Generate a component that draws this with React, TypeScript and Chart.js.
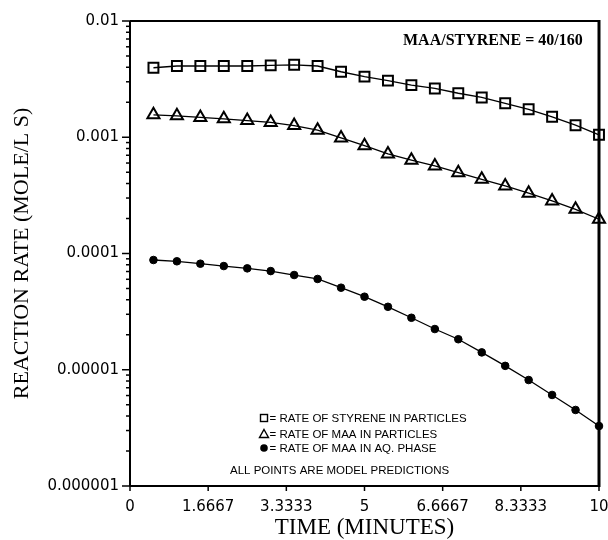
import { useEffect, useRef } from "react";
import { Chart, registerables } from "chart.js";

Chart.register(...registerables);

const timeMinutes = [0.5, 1, 1.5, 2, 2.5, 3, 3.5, 4, 4.5, 5, 5.5, 6, 6.5, 7, 7.5, 8, 8.5, 9, 9.5, 10];
const styreneInParticles = [
  0.00396, 0.0041, 0.0041, 0.0041, 0.0041, 0.00415, 0.0042, 0.0041, 0.00366, 0.00332,
  0.00307, 0.00281, 0.00263, 0.00239, 0.0022, 0.00196, 0.00174, 0.0015, 0.00127, 0.00105,
];
const maaInParticles = [
  0.00156, 0.00153, 0.00148, 0.00144, 0.00139, 0.00134, 0.00126, 0.00115, 0.000986, 0.000846,
  0.000718, 0.000635, 0.000566, 0.000496, 0.000435, 0.000381, 0.00033, 0.000283, 0.00024, 0.000197,
];
const maaInAqPhase = [
  0.0000879, 0.0000857, 0.0000817, 0.000078, 0.0000745, 0.0000706, 0.0000653, 0.0000604, 0.0000508, 0.0000425,
  0.0000348, 0.000028, 0.0000224, 0.0000183, 0.0000141, 0.0000108, 0.00000816, 0.00000607, 0.00000451, 0.00000328,
];
const xTickValues = [0, 1.6667, 3.3333, 5, 6.6667, 8.3333, 10];
const xTickLabels = ["0", "1.6667", "3.3333", "5", "6.6667", "8.3333", "10"];
const yTickValues = [0.000001, 0.00001, 0.0001, 0.001, 0.01];
const yTickLabels = ["0.000001", "0.00001", "0.0001", "0.001", "0.01"];
const legendLabels = [
  "RATE OF STYRENE IN PARTICLES",
  "RATE OF MAA IN PARTICLES",
  "RATE OF MAA IN AQ. PHASE",
];
const noteText = "ALL POINTS ARE MODEL PREDICTIONS";
const ratioText = "MAA/STYRENE = 40/160";
const xTitle = "TIME (MINUTES)";
const yTitle = "REACTION RATE (MOLE/L S)";

const decorPlugin = {
  id: "decor",
  afterDraw(chart: any) {
    const { ctx, chartArea } = chart;
    const xs = chart.scales.x;
    const ys = chart.scales.y;
    const { left, right, top, bottom } = chartArea;
    ctx.save();
    ctx.strokeStyle = "#000";
    ctx.fillStyle = "#000";
    // frame
    ctx.lineWidth = 2;
    ctx.beginPath();
    ctx.moveTo(left, top);
    ctx.lineTo(right, top);
    ctx.moveTo(left, top);
    ctx.lineTo(left, bottom);
    ctx.moveTo(left, bottom);
    ctx.lineTo(right, bottom);
    ctx.stroke();
    ctx.lineWidth = 3;
    ctx.beginPath();
    ctx.moveTo(right, top - 1);
    ctx.lineTo(right, bottom + 1);
    ctx.stroke();
    // y ticks (major + minor)
    ctx.lineWidth = 1.5;
    for (let d = -6; d <= -2; d++) {
      for (let m = 1; m <= 9; m++) {
        const v = m * Math.pow(10, d);
        if (v > 0.01 * 1.0001) continue;
        const py = ys.getPixelForValue(v);
        const len = m === 1 ? 8 : 4;
        ctx.beginPath();
        ctx.moveTo(left - len, py);
        ctx.lineTo(left, py);
        ctx.stroke();
      }
    }
    // x ticks
    xTickValues.forEach((v) => {
      const px = xs.getPixelForValue(v);
      ctx.beginPath();
      ctx.moveTo(px, bottom);
      ctx.lineTo(px, bottom + 5);
      ctx.stroke();
    });
    // ratio text
    ctx.font = "bold 16px 'Liberation Serif'";
    ctx.textBaseline = "middle";
    ctx.textAlign = "left";
    ctx.fillText(ratioText, 403, 41);
    // legend
    const lx = 264;
    const rows = [418, 434, 448];
    ctx.lineWidth = 1.4;
    ctx.strokeRect(lx - 3.5, rows[0] - 3.5, 7, 7);
    ctx.beginPath();
    ctx.moveTo(lx, rows[1] - 4.5);
    ctx.lineTo(lx + 4.5, rows[1] + 3.5);
    ctx.lineTo(lx - 4.5, rows[1] + 3.5);
    ctx.closePath();
    ctx.stroke();
    ctx.beginPath();
    ctx.arc(lx, rows[2], 3.8, 0, Math.PI * 2);
    ctx.fill();
    ctx.font = "11.5px 'Liberation Sans'";
    legendLabels.forEach((t, i) => {
      ctx.fillText("= " + t, 269.5, rows[i] + 0.5);
    });
    ctx.fillText(noteText, 230, 471);
    ctx.restore();
  },
};

export default function App() {
  const ref = useRef<HTMLCanvasElement | null>(null);
  useEffect(() => {
    if (!ref.current) return;
    const mk = (vals: number[]) => timeMinutes.map((t, i) => ({ x: t, y: vals[i] }));
    const chart = new Chart(ref.current, {
      type: "line",
      data: {
        datasets: [
          {
            data: mk(styreneInParticles),
            pointStyle: "rect",
            pointRadius: 7,
            pointBorderWidth: 2,
            pointBorderColor: "#000",
            pointBackgroundColor: "rgba(0,0,0,0)",
            borderColor: "#000",
            borderWidth: 1.3,
            fill: false,
            clip: false,
          },
          {
            data: mk(maaInParticles),
            pointStyle: "triangle",
            pointRadius: 7,
            pointBorderWidth: 2,
            pointBorderColor: "#000",
            pointBackgroundColor: "rgba(0,0,0,0)",
            borderColor: "#000",
            borderWidth: 1.3,
            fill: false,
            clip: false,
          },
          {
            data: mk(maaInAqPhase),
            pointStyle: "circle",
            pointRadius: 3.8,
            pointBorderWidth: 1,
            pointBorderColor: "#000",
            pointBackgroundColor: "#000",
            borderColor: "#000",
            borderWidth: 1.3,
            fill: false,
            clip: false,
          },
        ],
      } as any,
      options: {
        animation: false,
        responsive: false,
        layout: { padding: { left: 0, top: 21, right: 8, bottom: 0 } },
        plugins: { legend: { display: false }, tooltip: { enabled: false } },
        scales: {
          x: {
            type: "linear",
            position: "bottom",
            min: 0,
            max: 10,
            grid: { display: false, drawTicks: false },
            border: { display: false },
            afterBuildTicks: (s: any) => {
              s.ticks = xTickValues.map((v) => ({ value: v }));
            },
            afterFit: (s: any) => {
              s.height = 54;
              s.paddingLeft = 0;
              s.paddingRight = 0;
            },
            ticks: {
              autoSkip: false,
              maxRotation: 0,
              padding: 12,
              color: "#000",
              font: { family: "'DejaVu Sans'", size: 15 },
              callback: (_v: any, i: number) => xTickLabels[i],
            },
            title: {
              display: true,
              text: xTitle,
              color: "#000",
              font: { family: "'Liberation Serif'", size: 23, lineHeight: 1 },
              padding: { top: 0, bottom: 1 },
            },
          },
          y: {
            type: "logarithmic",
            min: 0.000001,
            max: 0.01,
            grid: { display: false, drawTicks: false },
            border: { display: false },
            afterBuildTicks: (s: any) => {
              s.ticks = yTickValues.map((v) => ({ value: v }));
            },
            afterFit: (s: any) => {
              s.width = 130;
              s.paddingTop = 0;
              s.paddingBottom = 0;
            },
            ticks: {
              autoSkip: false,
              padding: 11,
              color: "#000",
              font: { family: "'DejaVu Sans'", size: 15 },
              callback: (_v: any, i: number) => yTickLabels[i],
            },
            title: {
              display: true,
              text: yTitle,
              color: "#000",
              font: { family: "'Liberation Serif'", size: 22, lineHeight: 1 },
              padding: { top: 11, bottom: 0 },
            },
          },
        },
      } as any,
      plugins: [decorPlugin],
    });
    return () => chart.destroy();
  }, []);
  return (
    <div style={{ position: "fixed", left: 0, top: 0, width: 608, height: 540, background: "#fff" }}>
      <canvas ref={ref} width={608} height={540} />
    </div>
  );
}
